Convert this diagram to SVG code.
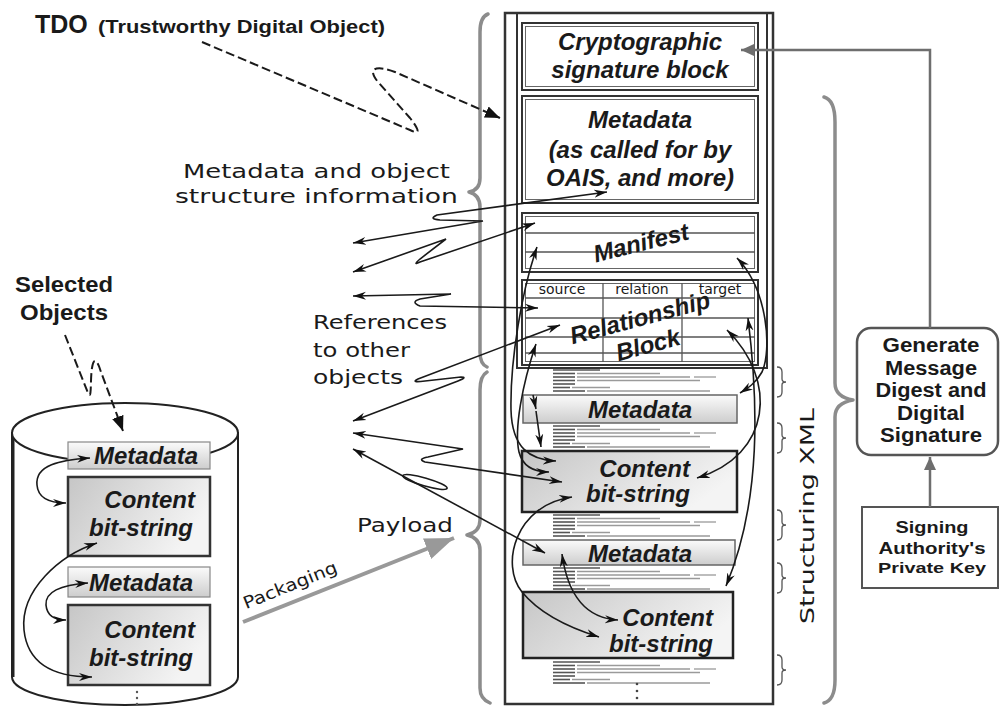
<svg xmlns="http://www.w3.org/2000/svg" width="1000" height="707" viewBox="0 0 1000 707">
<style>
.bi{font-family:"Liberation Sans",Arial,sans-serif;font-weight:bold;font-style:italic;fill:#1a1a1a}
.b{font-family:"Liberation Sans",Arial,sans-serif;font-weight:bold;fill:#1a1a1a}
.hw{font-family:"DejaVu Sans",sans-serif;fill:#1a1a1a}
.ln{fill:none;stroke:#1a1a1a;stroke-width:1.6}
.box{stroke:#333;stroke-width:2}
.thin{fill:none;stroke:#666;stroke-width:1}
.brace{fill:none;stroke:#8c8c8c;stroke-width:3.5;stroke-linecap:round;stroke-linejoin:round}
.sb{fill:none;stroke:#555;stroke-width:1.3}
.gray{fill:none;stroke:#6e6e6e;stroke-width:2.5}
.dash{fill:none;stroke:#1a1a1a;stroke-width:2;stroke-dasharray:9 4}
.xl{stroke:#9a9a9a;stroke-width:1.3}
.xd{stroke:#555;stroke-width:1.6}
</style>
<defs>
<linearGradient id="gc" x1="0" y1="0" x2="1" y2="0.4"><stop offset="0" stop-color="#c6c6c6"/><stop offset="1" stop-color="#f4f4f4"/></linearGradient>
<linearGradient id="gm" x1="0" y1="0" x2="0" y2="1"><stop offset="0" stop-color="#fbfbfb"/><stop offset="1" stop-color="#cdcdcd"/></linearGradient>
<marker id="ah" markerUnits="userSpaceOnUse" markerWidth="14" markerHeight="9" refX="13" refY="4.5" orient="auto-start-reverse"><path d="M0,0.5 L13,4.5 L0,8.5 L4,4.5 z" fill="#111"/></marker>
<marker id="ad" markerUnits="userSpaceOnUse" markerWidth="16" markerHeight="12" refX="15" refY="6" orient="auto"><path d="M0,0 L15,6 L0,12 z" fill="#111"/></marker>
<marker id="ag" markerUnits="userSpaceOnUse" markerWidth="14" markerHeight="12" refX="13" refY="6" orient="auto"><path d="M0,0 L13,6 L0,12 z" fill="#6e6e6e"/></marker>
<marker id="ap" markerUnits="userSpaceOnUse" markerWidth="30" markerHeight="22" refX="29" refY="11" orient="auto"><path d="M0,0 L29,11 L0,22 z" fill="#999"/></marker>
<g id="xml">
<line class="xd" x1="553" y1="2" x2="600" y2="2"/>
<line class="xd" x1="553" y1="5.5" x2="575" y2="5.5"/><line class="xl" x1="577" y1="5.5" x2="660" y2="5.5"/>
<line class="xd" x1="553" y1="9" x2="575" y2="9"/><line class="xl" x1="577" y1="9" x2="690" y2="9"/><line class="xl" x1="694" y1="9" x2="716" y2="9"/>
<line class="xd" x1="553" y1="12.5" x2="575" y2="12.5"/><line class="xl" x1="577" y1="12.5" x2="700" y2="12.5"/>
<line class="xd" x1="553" y1="16" x2="575" y2="16"/>
<line class="xd" x1="553" y1="19.5" x2="570" y2="19.5"/><line class="xl" x1="572" y1="19.5" x2="610" y2="19.5"/>
<line class="xd" x1="553" y1="23" x2="585" y2="23"/><line class="xl" x1="587" y1="23" x2="710" y2="23"/>
</g>
</defs>
<rect width="1000" height="707" fill="#fff"/>

<!-- braces and titles -->
<g id="tdo-label">
<text class="b" x="35" y="33" font-size="25">TDO</text>
<text class="b" x="98" y="33" font-size="18" textLength="287" lengthAdjust="spacingAndGlyphs">(Trustworthy Digital Object)</text>
</g>
<g id="meta-label">
<text class="hw" x="183" y="178" font-size="19" textLength="267" lengthAdjust="spacingAndGlyphs">Metadata and object</text>
<text class="hw" x="175" y="203" font-size="19" textLength="283" lengthAdjust="spacingAndGlyphs">structure information</text>
</g>
<g id="refs-label">
<text class="hw" x="313" y="329" font-size="20" textLength="134" lengthAdjust="spacingAndGlyphs">References</text>
<text class="hw" x="313" y="357" font-size="20" textLength="97" lengthAdjust="spacingAndGlyphs">to other</text>
<text class="hw" x="313" y="384" font-size="20" textLength="90" lengthAdjust="spacingAndGlyphs">objects</text>
</g>
<g id="payload-label">
<text class="hw" x="357" y="532" font-size="20" textLength="96" lengthAdjust="spacingAndGlyphs">Payload</text>
</g>
<g id="selected-label">
<text class="b" x="15" y="292" font-size="22" textLength="98" lengthAdjust="spacingAndGlyphs">Selected</text>
<text class="b" x="20" y="320" font-size="22" textLength="88" lengthAdjust="spacingAndGlyphs">Objects</text>
</g>
<g id="braces">
<path class="brace" d="M488,14 Q480,17 480,32 L480,178 Q480,190 469,192 Q480,195 480,207 L480,352 Q480,364 487,367"/>
<path class="brace" d="M487,372 Q480,376 480,390 L480,520 Q480,532 467,535 Q480,538 480,550 L480,688 Q480,699 490,703"/>
<path class="brace" d="M824,97 Q835,100 835,122 L835,383 Q835,397 853,400 Q835,403 835,417 L835,680 Q835,700 824,703"/>
<path class="sb" d="M777,367 Q782,367 782,372 L782,379 Q782,382 786,382 Q782,382 782,385 L782,392 Q782,397 777,397"/>
<path class="sb" d="M777,423 Q782,423 782,428 L782,435 Q782,438 786,438 Q782,438 782,441 L782,448 Q782,453 777,453"/>
<path class="sb" d="M777,510 Q782,510 782,515 L782,522 Q782,525 786,525 Q782,525 782,528 L782,535 Q782,540 777,540"/>
<path class="sb" d="M777,563 Q782,563 782,568 L782,575 Q782,578 786,578 Q782,578 782,581 L782,588 Q782,593 777,593"/>
<path class="sb" d="M777,655 Q782,655 782,660 L782,667 Q782,670 786,670 Q782,670 782,673 L782,680 Q782,685 777,685"/>
<text class="hw" transform="rotate(-90 807 516)" x="807" y="523" font-size="20" text-anchor="middle" textLength="216" lengthAdjust="spacingAndGlyphs" fill="#333">Structuring XML</text>
</g>

<!-- TDO column -->
<g id="tdo-column">
<rect x="505" y="13" width="268" height="691" fill="#fff" stroke="#333" stroke-width="2.5"/>
<rect x="517" y="13" width="250" height="355" fill="none" stroke="#333" stroke-width="2"/>
<use href="#xml" y="368"/>
<use href="#xml" y="424"/>
<use href="#xml" y="513"/>
<use href="#xml" y="566"/>
<use href="#xml" y="660"/>
<circle cx="637" cy="684" r="1.3" fill="#444"/><circle cx="637" cy="691" r="1.3" fill="#444"/><circle cx="637" cy="698" r="1.3" fill="#444"/>
</g>
<g id="crypto-block">
<rect x="522" y="23" width="236" height="67" fill="#fff" class="box"/>
<rect x="525.5" y="26.5" width="229" height="60" class="thin"/>
<text class="bi" x="640" y="50" font-size="24" text-anchor="middle">Cryptographic</text>
<text class="bi" x="640" y="78" font-size="24" text-anchor="middle">signature block</text>
</g>
<g id="metadata-oais">
<rect x="522" y="96" width="236" height="107" fill="#fff" class="box"/>
<rect x="525.5" y="99.5" width="229" height="100" class="thin"/>
<text class="bi" x="640" y="128" font-size="24" text-anchor="middle">Metadata</text>
<text class="bi" x="640" y="158" font-size="24" text-anchor="middle">(as called for by</text>
<text class="bi" x="640" y="186" font-size="24" text-anchor="middle">OAIS, and more)</text>
</g>
<g id="manifest">
<rect x="522" y="213" width="236" height="59" fill="#fff" class="box"/>
<rect x="525.5" y="216.5" width="229" height="52" class="thin"/>
<line x1="525" y1="233" x2="755" y2="233" stroke="#555" stroke-width="1.3"/>
<line x1="525" y1="252" x2="755" y2="252" stroke="#555" stroke-width="1.3"/>
<text class="bi" transform="rotate(-14 641 243)" x="641" y="251" font-size="24" text-anchor="middle">Manifest</text>
</g>
<g id="relationship-block">
<rect x="522" y="280" width="236" height="85" fill="#fff" class="box"/>
<rect x="525.5" y="283.5" width="229" height="78" class="thin"/>
<line x1="525" y1="298" x2="755" y2="298" stroke="#555" stroke-width="1.3"/>
<line x1="525" y1="318" x2="755" y2="318" stroke="#555" stroke-width="1.3"/>
<line x1="525" y1="337" x2="755" y2="337" stroke="#555" stroke-width="1.3"/>
<line x1="525" y1="353" x2="755" y2="353" stroke="#555" stroke-width="1.3"/>
<line x1="603" y1="283" x2="603" y2="362" stroke="#555" stroke-width="1.3"/>
<line x1="682" y1="283" x2="682" y2="362" stroke="#555" stroke-width="1.3"/>
<text class="hw" x="562" y="294" font-size="14" text-anchor="middle">source</text>
<text class="hw" x="642" y="294" font-size="14" text-anchor="middle">relation</text>
<text class="hw" x="720" y="294" font-size="14" text-anchor="middle">target</text>
<text class="bi" transform="rotate(-15 640 318)" x="640" y="326" font-size="24" text-anchor="middle">Relationship</text>
<text class="bi" transform="rotate(-15 648 345)" x="648" y="353" font-size="24" text-anchor="middle">Block</text>
</g>
<g id="metadata-1">
<rect x="523" y="395" width="214" height="28" fill="url(#gm)" stroke="#666" stroke-width="1.5"/>
<text class="bi" x="640" y="418" font-size="24" text-anchor="middle">Metadata</text>
</g>
<g id="content-1">
<rect x="522" y="451" width="215" height="61" fill="url(#gc)" stroke="#222" stroke-width="2.5"/>
<text class="bi" x="690" y="477" font-size="24" text-anchor="end">Content</text>
<text class="bi" x="690" y="502" font-size="24" text-anchor="end">bit-string</text>
</g>
<g id="metadata-2">
<rect x="523" y="540" width="212" height="25" fill="url(#gm)" stroke="#666" stroke-width="1.5"/>
<text class="bi" x="640" y="562" font-size="24" text-anchor="middle">Metadata</text>
</g>
<g id="content-2">
<rect x="523" y="592" width="210" height="66" fill="url(#gc)" stroke="#222" stroke-width="2.5"/>
<text class="bi" x="713" y="626" font-size="24" text-anchor="end">Content</text>
<text class="bi" x="713" y="652" font-size="24" text-anchor="end">bit-string</text>
</g>

<!-- cylinder -->
<g id="selected-objects-store">
<path d="M12,433 L12,677 A113,28 0 0 0 238,677 L238,433 Z" fill="#fff" stroke="#222" stroke-width="2"/>
<line x1="13" y1="433" x2="13" y2="677" stroke="#222" stroke-width="3"/>
<ellipse cx="125" cy="433" rx="113" ry="30" fill="#fff" stroke="#222" stroke-width="2"/>
<circle cx="137" cy="692" r="1.2" fill="#555"/><circle cx="137" cy="698" r="1.2" fill="#555"/><circle cx="137" cy="704" r="1.2" fill="#555"/>
</g>
<g id="cyl-metadata-1">
<rect x="68" y="442" width="142" height="27" fill="url(#gm)" stroke="#888" stroke-width="1.2"/>
<text class="bi" x="198" y="464" font-size="24" text-anchor="end">Metadata</text>
</g>
<g id="cyl-content-1">
<rect x="68" y="477" width="142" height="79" fill="url(#gc)" stroke="#333" stroke-width="2.5"/>
<text class="bi" x="195" y="508" font-size="24" text-anchor="end">Content</text>
<text class="bi" x="193" y="536" font-size="24" text-anchor="end">bit-string</text>
</g>
<g id="cyl-metadata-2">
<rect x="68" y="567" width="142" height="30" fill="url(#gm)" stroke="#888" stroke-width="1.2"/>
<text class="bi" x="193" y="591" font-size="24" text-anchor="end">Metadata</text>
</g>
<g id="cyl-content-2">
<rect x="68" y="605" width="142" height="80" fill="url(#gc)" stroke="#333" stroke-width="2.5"/>
<text class="bi" x="195" y="638" font-size="24" text-anchor="end">Content</text>
<text class="bi" x="193" y="666" font-size="24" text-anchor="end">bit-string</text>
</g>

<!-- right side -->
<g id="generate-signature">
<rect x="857" y="328" width="141" height="127" rx="14" fill="#fff" stroke="#555" stroke-width="2.5"/>
<text class="b" x="931" y="352" font-size="20" text-anchor="middle" textLength="97" lengthAdjust="spacingAndGlyphs">Generate</text>
<text class="b" x="931" y="375" font-size="20" text-anchor="middle" textLength="92" lengthAdjust="spacingAndGlyphs">Message</text>
<text class="b" x="931" y="397" font-size="20" text-anchor="middle" textLength="111" lengthAdjust="spacingAndGlyphs">Digest and</text>
<text class="b" x="931" y="420" font-size="20" text-anchor="middle" textLength="68" lengthAdjust="spacingAndGlyphs">Digital</text>
<text class="b" x="931" y="442" font-size="20" text-anchor="middle" textLength="102" lengthAdjust="spacingAndGlyphs">Signature</text>
</g>
<g id="private-key">
<rect x="862" y="507" width="136" height="81" fill="#fff" stroke="#555" stroke-width="2"/>
<text class="b" x="932" y="533" font-size="17" text-anchor="middle" textLength="73" lengthAdjust="spacingAndGlyphs">Signing</text>
<text class="b" x="932" y="554" font-size="17" text-anchor="middle" textLength="107" lengthAdjust="spacingAndGlyphs">Authority's</text>
<text class="b" x="932" y="573" font-size="15" text-anchor="middle" textLength="108" lengthAdjust="spacingAndGlyphs">Private Key</text>
</g>

<!-- connectors -->
<g id="connectors">
<path class="gray" d="M930,507 L930,457" marker-end="url(#ag)"/>
<path class="gray" d="M930,328 L930,50 L741,50" marker-end="url(#ag)"/>
<path d="M243,622 L454,538" fill="none" stroke="#999" stroke-width="4" marker-end="url(#ap)"/>
<text class="hw" transform="rotate(-22 290 585)" x="290" y="591" font-size="17" text-anchor="middle" textLength="100" lengthAdjust="spacingAndGlyphs">Packaging</text>
<path class="dash" d="M202,42 L410,130 C422,136 418,128 410,118 L378,82 C365,66 380,66 395,72 L500,118" marker-end="url(#ad)"/>
<path class="dash" d="M65,335 L88,393 C92,402 90,380 92,368 C94,355 98,362 101,372 L123,431" marker-end="url(#ad)"/>
<!-- external references -->
<path class="ln" d="M607,192 L437,215 Q428,219 440,220 L483,221 L353,243" marker-start="url(#ah)" marker-end="url(#ah)"/>
<path class="ln" d="M535,223 L420,262 Q412,266 420,259 L446,239 L353,272" marker-start="url(#ah)" marker-end="url(#ah)"/>
<path class="ln" d="M538,308 L420,306 Q410,302 420,299 L451,294 L353,296" marker-start="url(#ah)" marker-end="url(#ah)"/>
<path class="ln" d="M560,325 L418,379 Q410,383 425,381 L461,377 Q468,377 458,381 L353,421" marker-start="url(#ah)" marker-end="url(#ah)"/>
<path class="ln" d="M562,482 L425,462 Q417,459 428,457 L463,449 L353,433" marker-start="url(#ah)" marker-end="url(#ah)"/>
<path class="ln" d="M545,553 L353,449" marker-start="url(#ah)" marker-end="url(#ah)"/>
<ellipse class="ln" cx="425" cy="482" rx="23" ry="4" transform="rotate(16 425 482)"/>
<!-- internal -->
<path class="ln" d="M537,247 C522,290 510,360 511,410 C512,448 530,460 556,461" marker-start="url(#ah)" marker-end="url(#ah)"/>
<path class="ln" d="M536,344 C522,385 514,430 519,452 C523,468 535,472 549,472" marker-start="url(#ah)" marker-end="url(#ah)"/>
<path class="ln" d="M737,258 C768,290 772,350 762,372 C756,383 748,388 740,393" marker-start="url(#ah)" marker-end="url(#ah)"/>
<path class="ln" d="M748,318 C758,400 762,500 726,586" marker-start="url(#ah)" marker-end="url(#ah)"/>
<path class="ln" d="M727,330 C778,380 772,455 697,478" marker-start="url(#ah)" marker-end="url(#ah)"/>
<path class="ln" d="M533,395 L536,409" marker-end="url(#ah)"/>
<path class="ln" d="M536,411 L541,447" marker-end="url(#ah)"/>
<path class="ln" d="M572,497 C515,505 500,565 522,592 C540,614 570,628 599,637" marker-start="url(#ah)" marker-end="url(#ah)"/>
<path class="ln" d="M562,554 C567,590 582,618 618,620" marker-start="url(#ah)" marker-end="url(#ah)"/>
<!-- cylinder internal -->
<path class="ln" d="M90,458 C60,460 35,465 37,485 C38,498 50,503 66,503" marker-start="url(#ah)" marker-end="url(#ah)"/>
<path class="ln" d="M97,543 C60,555 20,590 24,630 C28,668 60,677 92,677" marker-start="url(#ah)" marker-end="url(#ah)"/>
<path class="ln" d="M88,583 C60,585 45,592 46,605 C47,616 55,620 66,620" marker-start="url(#ah)" marker-end="url(#ah)"/>
</g>
</svg>
